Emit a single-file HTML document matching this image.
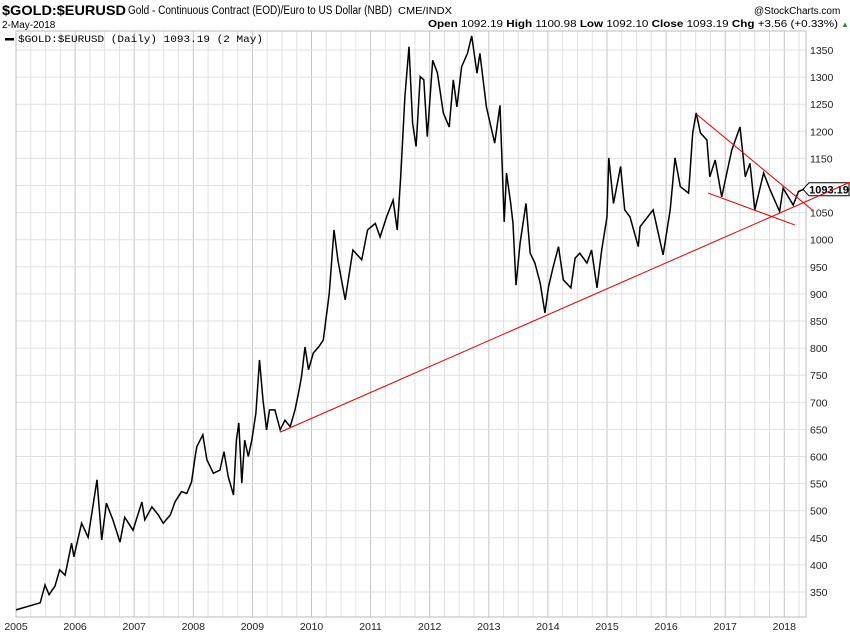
<!DOCTYPE html>
<html><head><meta charset="utf-8"><style>
body{margin:0;background:#fff;}
svg{display:block;font-family:"Liberation Sans",sans-serif;}
</style></head><body>
<svg id="chart" width="850" height="633" viewBox="0 0 850 633" xmlns="http://www.w3.org/2000/svg">
<text x="2" y="15" font-size="14" font-weight="bold" textLength="124" lengthAdjust="spacingAndGlyphs">$GOLD:$EURUSD</text>
<text x="128" y="14" font-size="11.5" textLength="264" lengthAdjust="spacingAndGlyphs">Gold - Continuous Contract (EOD)/Euro to US Dollar (NBD)</text>
<text x="398" y="14" font-size="10" textLength="54" lengthAdjust="spacingAndGlyphs">CME/INDX</text>
<text x="754" y="14" font-size="10">@StockCharts.com</text>
<text x="2" y="28" font-size="10">2-May-2018</text>
<text x="428" y="27" font-size="10" textLength="410" lengthAdjust="spacingAndGlyphs"><tspan font-weight="bold">Open</tspan> 1092.19 <tspan font-weight="bold">High</tspan> 1100.98 <tspan font-weight="bold">Low</tspan> 1092.10 <tspan font-weight="bold">Close</tspan> 1093.19 <tspan font-weight="bold">Chg</tspan> +3.56 (+0.33%)</text>
<text x="841" y="27" font-size="8" fill="#2a8a2a">▲</text>
<g id="grid"></g>
<g id="axes"></g>
<g id="series"></g>
<g id="trends"></g>
<rect x="5" y="38" width="9" height="2.5" fill="#000"/>
<text x="18" y="42" font-size="10.5" font-family="Liberation Mono,monospace" textLength="245" lengthAdjust="spacingAndGlyphs">$GOLD:$EURUSD (Daily) 1093.19 (2 May)</text>
</svg>
<script>
const years=[2005,2006,2007,2008,2009,2010,2011,2012,2013,2014,2015,2016,2017,2018];
const yTicks=[350,400,450,500,550,600,650,700,750,800,850,900,950,1000,1050,1100,1150,1200,1250,1300,1350];
const dates=[2005.0,2005.41,2005.49,2005.56,2005.66,2005.74,2005.83,2005.94,2005.98,2006.11,2006.22,2006.31,2006.37,2006.45,2006.53,2006.64,2006.76,2006.84,2006.98,2007.13,2007.18,2007.3,2007.41,2007.49,2007.61,2007.69,2007.8,2007.89,2007.97,2008.03,2008.06,2008.16,2008.23,2008.34,2008.45,2008.52,2008.59,2008.68,2008.73,2008.77,2008.82,2008.87,2008.93,2008.99,2009.06,2009.12,2009.18,2009.24,2009.29,2009.38,2009.47,2009.55,2009.64,2009.72,2009.78,2009.83,2009.89,2009.95,2010.03,2010.12,2010.2,2010.3,2010.38,2010.45,2010.57,2010.7,2010.85,2010.95,2011.08,2011.16,2011.27,2011.38,2011.45,2011.51,2011.58,2011.65,2011.71,2011.77,2011.84,2011.9,2011.96,2012.05,2012.13,2012.23,2012.33,2012.4,2012.46,2012.54,2012.64,2012.71,2012.8,2012.85,2012.96,2013.1,2013.19,2013.26,2013.3,2013.37,2013.41,2013.46,2013.53,2013.63,2013.7,2013.78,2013.87,2013.95,2014.01,2014.09,2014.18,2014.26,2014.39,2014.46,2014.54,2014.66,2014.74,2014.83,2014.91,2015.0,2015.03,2015.11,2015.23,2015.3,2015.39,2015.53,2015.56,2015.78,2015.95,2016.07,2016.15,2016.24,2016.38,2016.45,2016.51,2016.58,2016.69,2016.74,2016.83,2016.94,2017.11,2017.25,2017.34,2017.42,2017.5,2017.65,2017.76,2017.92,2017.98,2018.15,2018.24,2018.33];
const prices=[317,330,363,345,361,391,381,440,415,477,451,514,557,446,514,483,442,488,464,516,483,507,492,477,492,516,535,532,553,599,618,640,594,569,575,609,563,529,630,662,551,630,600,630,680,778,704,649,686,686,649,667,655,686,717,747,802,760,791,802,815,900,1018,960,889,981,963,1018,1030,1005,1042,1073,1018,1116,1264,1356,1215,1172,1301,1295,1190,1331,1308,1234,1208,1295,1245,1319,1344,1376,1307,1344,1245,1178,1248,1033,1123,1067,1030,916,994,1067,975,957,920,865,913,950,987,926,911,966,975,957,981,911,981,1042,1151,1067,1135,1055,1042,987,1024,1055,972,1055,1151,1098,1086,1197,1234,1197,1184,1116,1147,1079,1165,1208,1116,1141,1055,1123,1092,1052,1095,1064,1089,1093];
const trendStart=[[2009.47,645],[2016.51,1232],[2016.71,1086]];
const trendEnd=[[2019.11,1106],[2018.47,1055],[2018.18,1027]];
const L=16,R=806,T=31,B=617;
const X=y=>L+59.1*(y-2005);
const Y=v=>592-(v-350)*0.542;
const NS="http://www.w3.org/2000/svg";
function mk(tag,attrs,parent){const e=document.createElementNS(NS,tag);for(const k in attrs)e.setAttribute(k,attrs[k]);document.getElementById(parent).appendChild(e);return e;}
for(let q=0;q<54;q++){const yr=2005+q*0.25;const x=X(yr);if(x>R)break;
 const ln=mk('line',{x1:x,x2:x,y1:T,y2:B,stroke:q%4===0?'#c4c4c4':'#e2e2e2','stroke-width':1},'grid');
 
 }
yTicks.forEach(v=>{const y=Y(v);
 const ln=mk('line',{x1:L,x2:R,y1:y,y2:y,stroke:'#e0e0e0','stroke-width':1},'grid');
 
 
 const t=mk('text',{x:R+4,y:y+4,'font-size':'10.5',fill:'#222'},'axes');t.textContent=v;
 
 });
years.forEach(yr=>{const t=mk('text',{x:X(yr),y:630,'font-size':'10.5','text-anchor':'middle',fill:'#222'},'axes');t.textContent=yr;
 
 });
const fr=mk('rect',{x:L,y:T,width:R-L,height:B-T,fill:'none',stroke:'#bbb','stroke-width':1},'axes');


const pts=dates.map((d,i)=>X(d).toFixed(1)+','+Y(prices[i]).toFixed(1)).join(' ');
const pl=mk('polyline',{points:pts,fill:'none',stroke:'#000','stroke-width':1.5,'stroke-linejoin':'miter'},'series');


trendStart.forEach((s,i)=>{const e=trendEnd[i];
 const ln=mk('line',{x1:X(s[0]),y1:Y(s[1]),x2:X(e[0]),y2:Y(e[1]),stroke:'#e00000','stroke-width':1},'trends');
 
 });
const lastY=Y(prices[prices.length-1]);
const tag=mk('path',{d:`M803,${lastY} L809,${lastY-6.5} L849,${lastY-6.5} L849,${lastY+6.5} L809,${lastY+6.5} Z`,fill:'#fff',stroke:'#000','stroke-width':1},'axes');


const tt=mk('text',{x:829,y:lastY+4,'font-size':'11','font-weight':'bold','text-anchor':'middle'},'axes');tt.textContent='1093.19';


</script>
</body></html>
